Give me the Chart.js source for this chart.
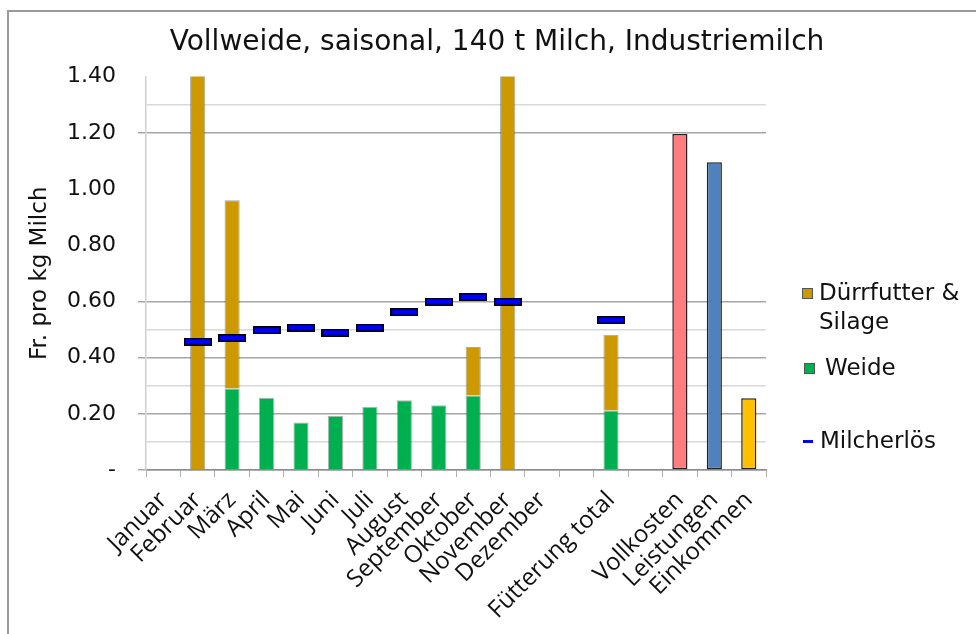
<!DOCTYPE html>
<html>
<head>
<meta charset="utf-8">
<script src="https://cdn.jsdelivr.net/npm/chart.js@4/dist/chart.umd.min.js"></script>
<style>
  body { margin: 0; background: #fff; }
  #wrap { position: relative; width: 976px; height: 634px; overflow: hidden; }
  #frame { position: absolute; left: 7px; top: 10px; width: 2000px; height: 2000px;
           border-left: 2px solid #9a9a9a; border-top: 2px solid #9a9a9a; }
  canvas { position: absolute; left: 0; top: 0; }
  .leg { position: absolute; font-family: "DejaVu Sans", sans-serif; font-size: 23px; color: #111; line-height: 29px; }
  .sw { position: absolute; width: 9px; height: 9px; border: 1px solid #555; }
</style>
</head>
<body>
<div id="wrap">
  <div id="frame"></div>
  <canvas id="chart" width="976" height="634"></canvas>
  <div class="sw" style="left:802px;top:288px;background:#CC9900"></div>
  <div class="leg" style="left:819px;top:278px">Dürrfutter &amp;<br>Silage</div>
  <div class="sw" style="left:804px;top:363px;background:#00B050"></div>
  <div class="leg" style="left:825px;top:353px">Weide</div>
  <div style="position:absolute;left:803px;top:440px;width:10px;height:3px;background:#0000FF"></div>
  <div class="leg" style="left:820px;top:426px">Milcherlös</div>
</div>
<script>
// --- data ---
const categories = ['Januar', 'Februar', 'März', 'April', 'Mai', 'Juni', 'Juli', 'August',
  'September', 'Oktober', 'November', 'Dezember', '', 'Fütterung total', '',
  'Vollkosten', 'Leistungen', 'Einkommen'];

const weide = [null, 0, 0.29, 0.257, 0.169, 0.193, 0.224, 0.248, 0.23, 0.265, 0, null,
  null, 0.212, null, null, null, null];
const duerrfutter = [null, 1.6, 0.67, null, null, null, null, null, null, 0.173, 1.6, null,
  null, 0.269, null, null, null, null];
const kosten = [null, null, null, null, null, null, null, null, null, null, null, null,
  null, null, null, 1.196, 1.095, 0.255];
const milcherloes = [null, 0.457, 0.47, 0.497, 0.507, 0.489, 0.507, 0.562, 0.599, 0.616, 0.599, null,
  null, 0.534, null, null, null, null];

const kostenColors = ['#FF7C80', '#4F81BD', '#FFC000'];

// blue dash marker with black outline
const dash = document.createElement('canvas');
dash.width = 28; dash.height = 8;
const dctx = dash.getContext('2d');
dctx.fillStyle = '#000';
dctx.fillRect(0, 0, 28, 8);
dctx.fillStyle = '#0000FF';
dctx.fillRect(1.5, 1.5, 25, 5);

const gridColor = v => {
  const t = Math.round(v * 10);
  if (t === 12 || t === 6 || t === 4 || t === 2 || t === 0) return '#a6a6a6';
  if (t === 13 || t === 5 || t === 3 || t === 1) return '#d9d9d9';
  return 'rgba(0,0,0,0)';
};

new Chart(document.getElementById('chart'), {
  data: {
    labels: categories,
    datasets: [
      {
        type: 'line', label: 'Milcherlös', data: milcherloes, showLine: false,
        pointStyle: dash, order: 0
      },
      {
        type: 'bar', label: 'Weide', data: weide, stack: 's', order: 1,
        backgroundColor: '#00B050', borderColor: 'rgba(0,0,0,0.3)', borderWidth: 1
      },
      {
        type: 'bar', label: 'Dürrfutter & Silage', data: duerrfutter, stack: 's', order: 1,
        backgroundColor: '#CC9900', borderColor: 'rgba(0,0,0,0.35)', borderWidth: 1
      },
      {
        type: 'bar', label: 'Kosten', data: kosten, stack: 's', order: 1,
        backgroundColor: ctx => kostenColors[ctx.dataIndex - 15] || '#999',
        borderColor: '#222', borderWidth: 1.5, borderSkipped: false
      }
    ]
  },
  options: {
    responsive: false,
    animation: false,
    events: [],
    datasets: { bar: { barPercentage: 0.44, categoryPercentage: 1 } },
    layout: { padding: { left: 18, right: 0, top: 0, bottom: 0 } },
    plugins: {
      legend: { display: false },
      tooltip: { enabled: false },
      title: {
        display: true,
        text: 'Vollweide, saisonal, 140 t Milch, Industriemilch',
        color: '#111',
        font: { family: 'DejaVu Sans', size: 28, weight: 'normal', lineHeight: 1.2 },
        padding: { top: 26, bottom: 17 }
      }
    },
    scales: {
      x: {
        grid: { display: true, drawOnChartArea: false, offset: true, tickLength: 7, color: '#b0b0b0' },
        border: { display: true, color: '#8c8c8c', width: 1.5 },
        ticks: {
          color: '#111', minRotation: 45, maxRotation: 45, autoSkip: false, padding: 9,
          font: { family: 'Open Sans', size: 24 }
        },
        afterFit: s => { s.height = 164; }
      },
      y: {
        min: 0, max: 1.4,
        border: { display: true, color: '#d0d0d0', width: 1.5 },
        grid: {
          color: c => gridColor(c.tick.value),
          tickColor: c => (Math.round(c.tick.value * 10) % 2 === 0 ? gridColor(c.tick.value) : 'rgba(0,0,0,0)'),
          tickLength: 8,
          lineWidth: 1.5
        },
        ticks: {
          stepSize: 0.1, autoSkip: false, color: '#111', padding: 22,
          font: { family: 'DejaVu Sans', size: 22 },
          callback: v => {
            const t = Math.round(v * 10);
            if (t % 2 !== 0) return '';
            return t === 0 ? '-' : v.toFixed(2);
          }
        },
        title: {
          display: true, text: 'Fr. pro kg Milch', color: '#111',
          font: { family: 'DejaVu Sans', size: 23 }, padding: { top: 8 }
        },
        afterFit: s => { s.width = 128; }
      },
      // empty space on the right for the legend
      yRight: {
        axis: 'y', type: 'linear', position: 'right', display: true,
        grid: { display: false }, border: { display: false }, ticks: { display: false },
        afterFit: s => { s.width = 210; }
      }
    }
  }
});
</script>
</body>
</html>
